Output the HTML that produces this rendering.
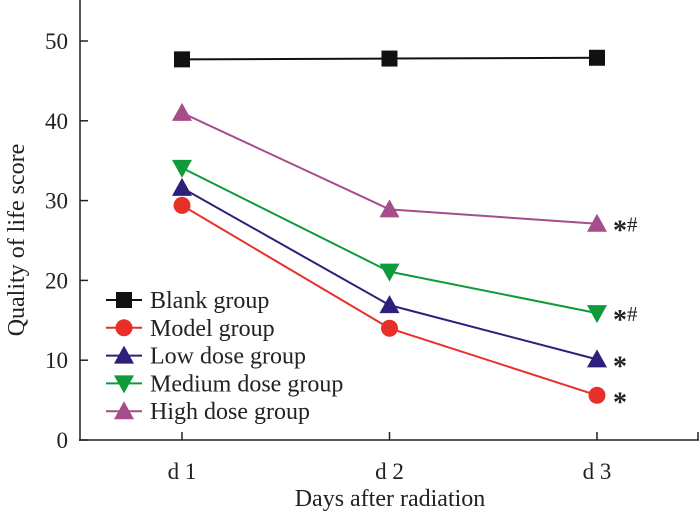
<!DOCTYPE html>
<html><head><meta charset="utf-8"><style>
body{margin:0;background:#fff}
svg{display:block;font-family:"Liberation Serif",serif}
</style></head><body>
<svg id="chart" width="700" height="515" viewBox="0 0 700 515"></svg>
<script>
const categories=["d 1","d 2","d 3"];
const yTicks=[0,10,20,30,40,50];
const seriesNames=["Blank group","Model group","Low dose group","Medium dose group","High dose group"];
const blank=[47.7,47.8,47.9];
const model=[29.4,14.0,5.6];
const low=[31.6,16.9,10.1];
const medium=[34.1,21.1,15.9];
const high=[41.0,28.9,27.1];
const marks=["","*","*","*#","*#"];
const colors=["#111","#e8302a","#2e1f7a","#0f9a3c","#a64d8c"];
const shapes=["square","circle","up","down","up"];
const svg=document.getElementById('chart');
const NS="http://www.w3.org/2000/svg";
const x=i=>182+i*207.5, y=v=>440-v*7.98;
function mk(t,a,p){const e=document.createElementNS(NS,t);for(const k in a)e.setAttribute(k,a[k]);(p||svg).appendChild(e);return e;}
function marker(s,cx,cy,c,g){
 if(s==="square")return mk('rect',{x:cx-8,y:cy-8,width:16,height:16,fill:c},g);
 if(s==="circle")return mk('circle',{cx:cx,cy:cy,r:8.5,fill:c},g);
 if(s==="up")return mk('polygon',{points:`${cx},${cy-10} ${cx-10},${cy+8} ${cx+10},${cy+8}`,fill:c},g);
 return mk('polygon',{points:`${cx},${cy+10} ${cx-10},${cy-8} ${cx+10},${cy-8}`,fill:c},g);
}
let e=mk('line',{x1:80,y1:0,x2:80,y2:441,stroke:'#222','stroke-width':1.5});

e=mk('line',{x1:79,y1:440,x2:699,y2:440,stroke:'#222','stroke-width':1.5});

yTicks.forEach(t=>{
 const l=mk('line',{x1:80,y1:y(t),x2:88,y2:y(t),stroke:'#222','stroke-width':1.5});
 
 const tx=mk('text',{x:68,y:y(t)+8,'text-anchor':'end','font-size':23,fill:'#222'});tx.textContent=t;
 
});
categories.forEach((c,i)=>{
 const l=mk('line',{x1:x(i),y1:440,x2:x(i),y2:432,stroke:'#222','stroke-width':1.5});
 
 const tx=mk('text',{x:x(i),y:479,'text-anchor':'middle','font-size':23,fill:'#222'});tx.textContent=c;
 
});
const l699=mk('line',{x1:698,y1:440,x2:698,y2:432,stroke:'#222','stroke-width':1.5});

e=mk('text',{x:390,y:506,'text-anchor':'middle','font-size':24,fill:'#222'});e.textContent="Days after radiation";

e=mk('text',{x:0,y:0,'text-anchor':'middle','font-size':24,fill:'#222',transform:'translate(24,240) rotate(-90)'});e.textContent="Quality of life score";

[blank,model,low,medium,high].forEach((d,s)=>{
 const g=mk('g',{});
 
 
 const pl=mk('polyline',{points:d.map((v,i)=>x(i)+','+y(v)).join(' '),fill:'none',stroke:colors[s],'stroke-width':2},g);
 
 d.forEach((v,i)=>{const m=marker(shapes[s],x(i),y(v),colors[s],g);
  });
 if(marks[s]){
  const t=mk('text',{x:x(2)+16,y:y(d[2])+16,'font-size':28,'font-weight':'bold',fill:'#222'},g);t.textContent="*";
  
  if(marks[s].length>1){const b=mk('text',{x:x(2)+30,y:y(d[2])+8,'font-size':21,fill:'#222'},g);b.textContent="#";
   }
 }
 const lg=mk('g',{});
 
 const ly=300+s*27.8;
 mk('line',{x1:106,y1:ly,x2:142,y2:ly,stroke:colors[s],'stroke-width':2},lg);
 marker(shapes[s],124,ly,colors[s],lg);
 const lt=mk('text',{x:150,y:ly+8,'font-size':24,fill:'#222'},lg);lt.textContent=seriesNames[s];
});
</script>
</body></html>
